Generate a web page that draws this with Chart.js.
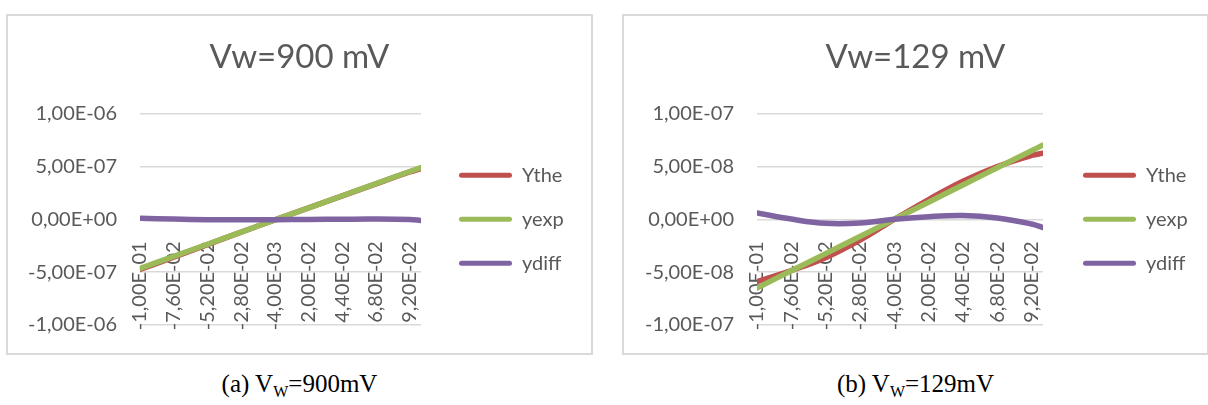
<!DOCTYPE html>
<html>
<head>
<meta charset="utf-8">
<script src="https://cdn.jsdelivr.net/npm/chart.js@4.4.1/dist/chart.umd.min.js"></script>
<style>
  body { margin: 0; background: #fff; width: 1208px; height: 405px; overflow: hidden; position: relative; }
  .panel { position: absolute; top: 14px; width: 583px; height: 337px; border: 2px solid #d9d9d9; background: #fff; }
  .panel canvas { display: block; }
  .caption { position: absolute; top: 370px; width: 587px; text-align: center;
             font-family: "Liberation Serif", serif; font-size: 25px; color: #000; }
  .caption sub { font-size: 16px; vertical-align: -5px; line-height: 0; }
</style>
</head>
<body>
<div class="panel" style="left:6px"><canvas id="chart900" width="583" height="337"></canvas></div>
<div class="panel" style="left:622px"><canvas id="chart129" width="583" height="337"></canvas></div>
<div class="caption" style="left:6px">(a) V<sub>W</sub>=900mV</div>
<div class="caption" style="left:622px">(b) V<sub>W</sub>=129mV</div>

<script>
// sweep positions (x) and the labels shown on the category axis
const xValues = [-0.1, -0.076, -0.052, -0.028, -0.004, 0.02, 0.044, 0.068, 0.092, 0.1];
const xTickValues = [-0.1, -0.076, -0.052, -0.028, -0.004, 0.02, 0.044, 0.068, 0.092];
const xTickLabels = ['-1,00E-01', '-7,60E-02', '-5,20E-02', '-2,80E-02', '-4,00E-03',
                     '2,00E-02', '4,40E-02', '6,80E-02', '9,20E-02'];
const seriesNames = ['Ythe', 'yexp', 'ydiff'];

// Vw = 900 mV
const ythe900 = [-4.75e-7, -3.58e-7, -2.40e-7, -1.22e-7, -6e-9, 1.08e-7, 2.22e-7, 3.36e-7, 4.48e-7, 4.80e-7];
const yexp900 = [-4.65e-7, -3.50e-7, -2.36e-7, -1.21e-7, -6e-9, 1.08e-7, 2.23e-7, 3.38e-7, 4.52e-7, 4.88e-7];
const ydiff900 = [1.1e-8, 0.2e-8, -0.4e-8, -0.5e-8, -0.4e-8, -0.1e-8, 0.1e-8, 0.2e-8, -0.3e-8, -1.1e-8];
const yTicks900 = ['-1,00E-06', '-5,00E-07', '0,00E+00', '5,00E-07', '1,00E-06'];

// Vw = 129 mV
const ythe129 = [-5.90e-8, -4.85e-8, -3.63e-8, -1.97e-8, 0, 1.87e-8, 3.60e-8, 4.99e-8, 6.04e-8, 6.25e-8];
const yexp129 = [-6.50e-8, -4.87e-8, -3.25e-8, -1.62e-8, 0, 1.62e-8, 3.25e-8, 4.87e-8, 6.49e-8, 7.03e-8];
const ydiff129 = [0.60e-8, 0.02e-8, -0.38e-8, -0.35e-8, 0, 0.25e-8, 0.35e-8, 0.12e-8, -0.45e-8, -0.78e-8];
const yTicks129 = ['-1,00E-07', '-5,00E-08', '0,00E+00', '5,00E-08', '1,00E-07'];

const textColor = '#595959';
const gridColor = '#d9d9d9';
const fontFamily = 'Lato';
const labelSize = 20;
const legendBox = 53;
const legendPad = 24;

function points(ys) {
  return xValues.map((x, i) => ({ x: x, y: ys[i] }));
}

function series(label, ys, color, order) {
  return {
    label: label,
    data: points(ys),
    borderColor: color,
    backgroundColor: color,
    borderWidth: 5.5,
    borderCapStyle: 'round',
    borderJoinStyle: 'round',
    pointRadius: 0,
    tension: 0.4,
    order: order // later series sit on top
  };
}

// width the legend box takes for our labels (same sum Chart.js uses)
function legendWidth(ctx) {
  ctx.font = labelSize + 'px ' + fontFamily;
  const textW = Math.max(...seriesNames.map((s) => ctx.measureText(s).width));
  return legendPad + legendBox + labelSize / 2 + textW + 10;
}

function spacer(width, weight) {
  return {
    axis: 'y',
    position: 'right',
    weight: weight,
    grid: { display: false },
    border: { display: false },
    ticks: { display: false },
    afterFit: (scale) => { scale.width = width; }
  };
}

function makeChart(id, title, ythe, yexp, ydiff, yMax, yTickLabels, box) {
  const canvas = document.getElementById(id);
  const ctx = canvas.getContext('2d');
  const outer = Math.max(0, canvas.width - box.areaRight - box.gap - legendWidth(ctx));

  return new Chart(ctx, {
    type: 'line',
    data: {
      datasets: [
        series(seriesNames[0], ythe, '#c0504d', 3),
        series(seriesNames[1], yexp, '#9bbb59', 2),
        series(seriesNames[2], ydiff, '#8064a2', 1)
      ]
    },
    options: {
      responsive: false,
      animation: false,
      layout: { padding: { left: 0, top: 0, right: 0, bottom: 28 } },
      plugins: {
        title: {
          display: true,
          text: title,
          color: textColor,
          font: { family: fontFamily, size: 33, weight: 'normal' },
          padding: { top: 22, bottom: 36 }
        },
        legend: {
          position: 'right',
          fullSize: false,
          maxWidth: 400,
          labels: {
            color: textColor,
            font: { family: fontFamily, size: labelSize },
            boxWidth: legendBox,
            boxHeight: 5,
            padding: legendPad,
            useBorderRadius: true,
            borderRadius: 2.5,
            sort: (a, b) => a.datasetIndex - b.datasetIndex,
            generateLabels: (chart) =>
              Chart.defaults.plugins.legend.labels.generateLabels(chart).map((item) => ({
                ...item, fillStyle: item.strokeStyle, lineWidth: 0, borderRadius: 2.5
              }))
          }
        },
        tooltip: { enabled: false }
      },
      scales: {
        x: {
          type: 'linear',
          min: -0.1,
          max: 0.1,
          position: { y: 0 },
          grid: { display: false },
          border: { display: false },
          afterBuildTicks: (scale) => { scale.ticks = xTickValues.map((v) => ({ value: v })); },
          afterFit: (scale) => { scale.height = 0; },
          ticks: {
            autoSkip: false,
            minRotation: 90,
            maxRotation: 90,
            padding: 14,
            color: textColor,
            font: { family: fontFamily, size: labelSize },
            callback: (value, index) => xTickLabels[index]
          }
        },
        y: {
          min: -yMax,
          max: yMax,
          afterFit: (scale) => {
            scale.width = box.areaLeft;
            // the label gap is horizontal only; don't let it pad the plot's bottom
            scale.paddingBottom = 0;
          },
          grid: { color: gridColor, lineWidth: 1.5, drawTicks: false },
          border: { display: false },
          ticks: {
            stepSize: yMax / 2,
            padding: 23,
            color: textColor,
            font: { family: fontFamily, size: labelSize },
            callback: (value, index) => yTickLabels[index]
          }
        },
        // blank axes: room between plot and legend, and after the legend
        gapIn: spacer(box.gap, 0),
        gapOut: spacer(outer, 2000)
      }
    }
  });
}

makeChart('chart900', 'Vw=900 mV', ythe900, yexp900, ydiff900, 1e-6, yTicks900,
  { areaLeft: 132, areaRight: 413, gap: 14 });
makeChart('chart129', 'Vw=129 mV', ythe129, yexp129, ydiff129, 1e-7, yTicks129,
  { areaLeft: 133, areaRight: 419, gap: 16 });
</script>
</body>
</html>
